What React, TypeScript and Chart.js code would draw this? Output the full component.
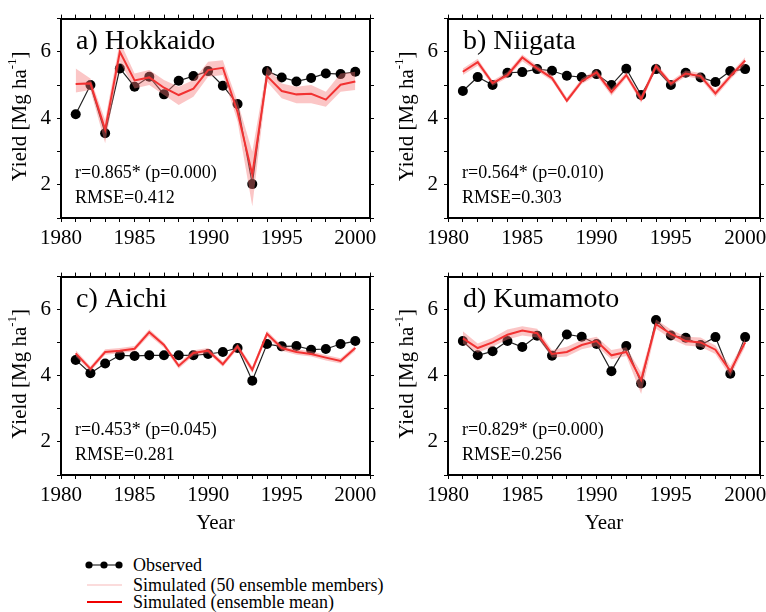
import React, { useEffect, useRef } from 'react';
import { Chart, registerables } from 'chart.js';

Chart.register(...registerables);

// Years on the x axis (one point per year)
const YEARS = [1981, 1982, 1983, 1984, 1985, 1986, 1987, 1988, 1989, 1990,
  1991, 1992, 1993, 1994, 1995, 1996, 1997, 1998, 1999, 2000];
const X_TICK_LABELS = [1980, 1985, 1990, 1995, 2000];
const Y_TICK_LABELS = [2, 4, 6];

// a) Hokkaido
const HOKKAIDO_OBS = [4.12, 5.0, 3.55, 5.5, 4.95, 5.25, 4.72, 5.13, 5.27, 5.42, 4.98, 4.43, 2.02, 5.42, 5.23, 5.11, 5.21, 5.35, 5.33, 5.4];
const HOKKAIDO_MEAN = [5.03, 5.05, 3.66, 6.0, 5.14, 5.23, 4.92, 4.7, 4.89, 5.45, 5.52, 4.19, 2.31, 5.27, 4.82, 4.72, 4.74, 4.56, 5.01, 5.11];
const HOKKAIDO_LOW = [4.78, 4.85, 3.25, 5.7, 4.9, 5.0, 4.7, 4.4, 4.65, 5.25, 5.3, 3.9, 1.35, 5.1, 4.6, 4.45, 4.45, 4.35, 4.8, 4.85];
const HOKKAIDO_HIGH = [5.5, 5.2, 3.95, 6.32, 5.35, 5.45, 5.15, 4.95, 5.15, 5.7, 5.75, 4.5, 3.0, 5.55, 5.05, 4.95, 5.0, 4.8, 5.35, 5.4];

// b) Niigata
const NIIGATA_OBS = [4.82, 5.24, 5.0, 5.37, 5.39, 5.48, 5.43, 5.28, 5.24, 5.33, 5.0, 5.49, 4.7, 5.48, 5.0, 5.37, 5.23, 5.09, 5.42, 5.48];
const NIIGATA_MEAN = [5.4, 5.69, 5.06, 5.3, 5.83, 5.5, 5.21, 4.53, 5.11, 5.38, 4.79, 5.3, 4.58, 5.57, 5.04, 5.35, 5.27, 4.75, 5.26, 5.74];
const NIIGATA_LOW = [5.3, 5.58, 4.98, 5.22, 5.72, 5.42, 5.12, 4.46, 5.03, 5.28, 4.68, 5.21, 4.47, 5.47, 4.96, 5.26, 5.18, 4.64, 5.17, 5.62];
const NIIGATA_HIGH = [5.5, 5.79, 5.14, 5.39, 5.92, 5.59, 5.3, 4.62, 5.2, 5.47, 4.89, 5.39, 4.69, 5.67, 5.12, 5.44, 5.36, 4.85, 5.35, 5.84];

// c) Aichi
const AICHI_OBS = [4.48, 4.08, 4.37, 4.62, 4.6, 4.62, 4.62, 4.62, 4.62, 4.66, 4.72, 4.84, 3.85, 4.96, 4.89, 4.9, 4.79, 4.81, 4.96, 5.05];
const AICHI_MEAN = [4.68, 4.21, 4.72, 4.76, 4.82, 5.32, 4.93, 4.3, 4.69, 4.76, 4.35, 4.89, 4.18, 5.27, 4.84, 4.72, 4.66, 4.55, 4.45, 4.84];
const AICHI_LOW = [4.58, 4.13, 4.64, 4.68, 4.74, 5.22, 4.85, 4.21, 4.61, 4.68, 4.27, 4.8, 4.08, 5.18, 4.76, 4.64, 4.58, 4.46, 4.37, 4.75];
const AICHI_HIGH = [4.77, 4.29, 4.8, 4.84, 4.9, 5.41, 5.01, 4.38, 4.77, 4.84, 4.43, 4.97, 4.28, 5.36, 4.92, 4.8, 4.74, 4.63, 4.53, 4.92];

// d) Kumamoto
const KUMAMOTO_OBS = [5.05, 4.62, 4.74, 5.05, 4.87, 5.21, 4.61, 5.25, 5.18, 4.96, 4.14, 4.9, 3.77, 5.69, 5.22, 5.15, 4.93, 5.17, 4.06, 5.17];
const KUMAMOTO_MEAN = [5.13, 4.84, 5.01, 5.24, 5.37, 5.29, 4.66, 4.72, 4.93, 5.05, 4.62, 4.72, 3.87, 5.56, 5.27, 5.05, 5.01, 4.79, 4.14, 5.01];
const KUMAMOTO_LOW = [4.98, 4.7, 4.88, 5.1, 5.22, 5.16, 4.55, 4.58, 4.8, 4.9, 4.5, 4.6, 3.45, 5.42, 5.12, 4.92, 4.88, 4.66, 3.98, 4.88];
const KUMAMOTO_HIGH = [5.35, 4.98, 5.15, 5.4, 5.5, 5.42, 4.78, 4.88, 5.08, 5.18, 4.78, 4.86, 4.1, 5.7, 5.4, 5.18, 5.16, 4.92, 4.3, 5.12];

const SERIF = '"Liberation Serif", "Times New Roman", serif';
const RED = '#f00000';
const BAND = 'rgba(246, 120, 120, 0.42)';
const MEMBER_LINE = '#f7b9b9';

type PanelSpec = {
  title: string;
  obs: number[];
  mean: number[];
  low: number[];
  high: number[];
  stats: string;
  rmse: string;
  left: number;
  top: number;
  width: number;
  height: number;
  yAxisW: number;
  xAxisH: number;
  padTop: number;
  padRight: number;
  showYear: boolean;
};

const PANELS: PanelSpec[] = [
  { title: 'a) Hokkaido', obs: HOKKAIDO_OBS, mean: HOKKAIDO_MEAN, low: HOKKAIDO_LOW, high: HOKKAIDO_HIGH,
    stats: 'r=0.865* (p=0.000)', rmse: 'RMSE=0.412',
    left: 0, top: 0, width: 383, height: 258, yAxisW: 61, xAxisH: 40, padTop: 8, padRight: 13, showYear: false },
  { title: 'b) Niigata', obs: NIIGATA_OBS, mean: NIIGATA_MEAN, low: NIIGATA_LOW, high: NIIGATA_HIGH,
    stats: 'r=0.564* (p=0.010)', rmse: 'RMSE=0.303',
    left: 383, top: 0, width: 383, height: 258, yAxisW: 65, xAxisH: 40, padTop: 8, padRight: 6, showYear: false },
  { title: 'c) Aichi', obs: AICHI_OBS, mean: AICHI_MEAN, low: AICHI_LOW, high: AICHI_HIGH,
    stats: 'r=0.453* (p=0.045)', rmse: 'RMSE=0.281',
    left: 0, top: 258, width: 383, height: 282, yAxisW: 61, xAxisH: 65, padTop: 10, padRight: 13, showYear: true },
  { title: 'd) Kumamoto', obs: KUMAMOTO_OBS, mean: KUMAMOTO_MEAN, low: KUMAMOTO_LOW, high: KUMAMOTO_HIGH,
    stats: 'r=0.829* (p=0.000)', rmse: 'RMSE=0.256',
    left: 383, top: 258, width: 383, height: 282, yAxisW: 65, xAxisH: 65, padTop: 10, padRight: 6, showYear: true },
];

const toPoints = (values: number[]) => values.map((v, i) => ({ x: YEARS[i], y: v }));

const gridOpts = {
  drawOnChartArea: false,
  drawTicks: true,
  tickLength: 4,
  color: '#000',
  lineWidth: 1,
};
const borderOpts = { display: true, color: '#000', width: 2 };
const tickFont = { family: SERIF, size: 21 };

function Panel({ spec }: { spec: PanelSpec }) {
  const ref = useRef<HTMLCanvasElement>(null);

  useEffect(() => {
    if (!ref.current) return;

    // Panel label, statistics and the rotated y-axis title with superscript
    const annotate = {
      id: 'panelText',
      afterDraw(chart: any) {
        const { ctx, chartArea } = chart;
        ctx.save();
        ctx.fillStyle = '#000';
        ctx.textBaseline = 'alphabetic';
        ctx.textAlign = 'left';
        ctx.font = `28px ${SERIF}`;
        ctx.fillText(spec.title, chartArea.left + 15, chartArea.top + 30);
        ctx.font = `18px ${SERIF}`;
        ctx.fillText(spec.stats, chartArea.left + 14, chartArea.bottom - 40);
        ctx.fillText(spec.rmse, chartArea.left + 14, chartArea.bottom - 15);

        // y-axis title
        const cx = chartArea.left - 42;
        const cy = (chartArea.top + chartArea.bottom) / 2 - 2;
        const main = 'Yield [Mg ha';
        const sup = '-1';
        const tail = ']';
        ctx.font = `21px ${SERIF}`;
        const wMain = ctx.measureText(main).width;
        const wTail = ctx.measureText(tail).width;
        ctx.font = `13px ${SERIF}`;
        const wSup = ctx.measureText(sup).width;
        const total = wMain + wSup + wTail;
        ctx.translate(cx, cy);
        ctx.rotate(-Math.PI / 2);
        ctx.textBaseline = 'middle';
        let x = -total / 2;
        ctx.font = `21px ${SERIF}`;
        ctx.fillText(main, x, 1);
        x += wMain;
        ctx.font = `13px ${SERIF}`;
        ctx.fillText(sup, x, -6);
        x += wSup;
        ctx.font = `21px ${SERIF}`;
        ctx.fillText(tail, x, 1);
        ctx.restore();
      },
    };

    const chart = new Chart(ref.current, {
      type: 'line',
      data: {
        datasets: [
          { data: toPoints(spec.low), borderColor: 'rgba(0,0,0,0)', borderWidth: 0, pointRadius: 0, fill: false },
          { data: toPoints(spec.high), borderColor: 'rgba(0,0,0,0)', borderWidth: 0, pointRadius: 0, fill: '-1', backgroundColor: BAND },
          { data: toPoints(spec.mean), borderColor: RED, borderWidth: 2, pointRadius: 0, fill: false },
          { data: toPoints(spec.obs), borderColor: '#222', borderWidth: 1.2, pointRadius: 5,
            pointBackgroundColor: '#000', pointBorderWidth: 0, fill: false },
        ],
      },
      options: {
        animation: false,
        responsive: false,
        devicePixelRatio: 1,
        layout: { padding: { left: 0, top: spec.padTop, right: spec.padRight, bottom: 0 } },
        plugins: { legend: { display: false }, tooltip: { enabled: false } },
        scales: {
          x: {
            type: 'linear', position: 'bottom', min: 1980, max: 2001,
            grid: gridOpts, border: borderOpts,
            ticks: {
              stepSize: 1, autoSkip: false, maxRotation: 0, minRotation: 0, padding: 4,
              maxTicksLimit: 100, color: '#000', font: tickFont,
              callback: (v: any) => (X_TICK_LABELS.includes(Number(v)) ? String(v) : ''),
            },
            title: { display: spec.showYear, text: 'Year', color: '#000', font: { family: SERIF, size: 21 } },
            afterFit: (s: any) => { s.height = spec.xAxisH; },
          },
          x2: {
            type: 'linear', position: 'top', min: 1980, max: 2001,
            grid: gridOpts, border: borderOpts,
            ticks: { display: false, stepSize: 1, autoSkip: false, maxTicksLimit: 100 },
            afterFit: (s: any) => { s.height = 0; },
          },
          y: {
            type: 'linear', position: 'left', min: 1, max: 7,
            grid: gridOpts, border: borderOpts,
            ticks: {
              stepSize: 1, autoSkip: false, padding: 6, color: '#000', font: tickFont,
              callback: (v: any) => (Y_TICK_LABELS.includes(Number(v)) ? String(v) : ''),
            },
            afterFit: (s: any) => { s.width = spec.yAxisW; },
          },
          y2: {
            type: 'linear', position: 'right', min: 1, max: 7,
            grid: gridOpts, border: borderOpts,
            ticks: { display: false, stepSize: 1, autoSkip: false },
            afterFit: (s: any) => { s.width = 0; },
          },
        },
      },
      plugins: [annotate],
    });
    return () => chart.destroy();
  }, [spec]);

  return (
    <canvas
      ref={ref}
      width={spec.width}
      height={spec.height}
      style={{ position: 'absolute', left: spec.left, top: spec.top, width: spec.width, height: spec.height }}
    />
  );
}

function Legend() {
  const text: React.CSSProperties = {
    position: 'absolute', left: 133, fontFamily: SERIF, fontSize: 18,
    lineHeight: '18px', color: '#000', whiteSpace: 'nowrap',
  };
  return (
    <>
      <svg style={{ position: 'absolute', left: 84, top: 556 }} width={44} height={52}>
        <line x1={4} y1={9} x2={37} y2={9} stroke="#000" strokeWidth={1.2} />
        <circle cx={5} cy={9} r={3.6} fill="#000" />
        <circle cx={20} cy={9} r={3.6} fill="#000" />
        <circle cx={35} cy={9} r={3.6} fill="#000" />
        <line x1={3} y1={29} x2={38} y2={29} stroke={MEMBER_LINE} strokeWidth={1.2} />
        <line x1={3} y1={46} x2={38} y2={46} stroke={RED} strokeWidth={2} />
      </svg>
      <div style={{ ...text, top: 556 }}>Observed</div>
      <div style={{ ...text, top: 576 }}>Simulated (50 ensemble members)</div>
      <div style={{ ...text, top: 593 }}>Simulated (ensemble mean)</div>
    </>
  );
}

export default function App() {
  return (
    <div style={{ position: 'absolute', left: 0, top: 0, width: 766, height: 612, background: '#fff', overflow: 'hidden' }}>
      {PANELS.map((p) => (
        <Panel key={p.title} spec={p} />
      ))}
      <Legend />
    </div>
  );
}
